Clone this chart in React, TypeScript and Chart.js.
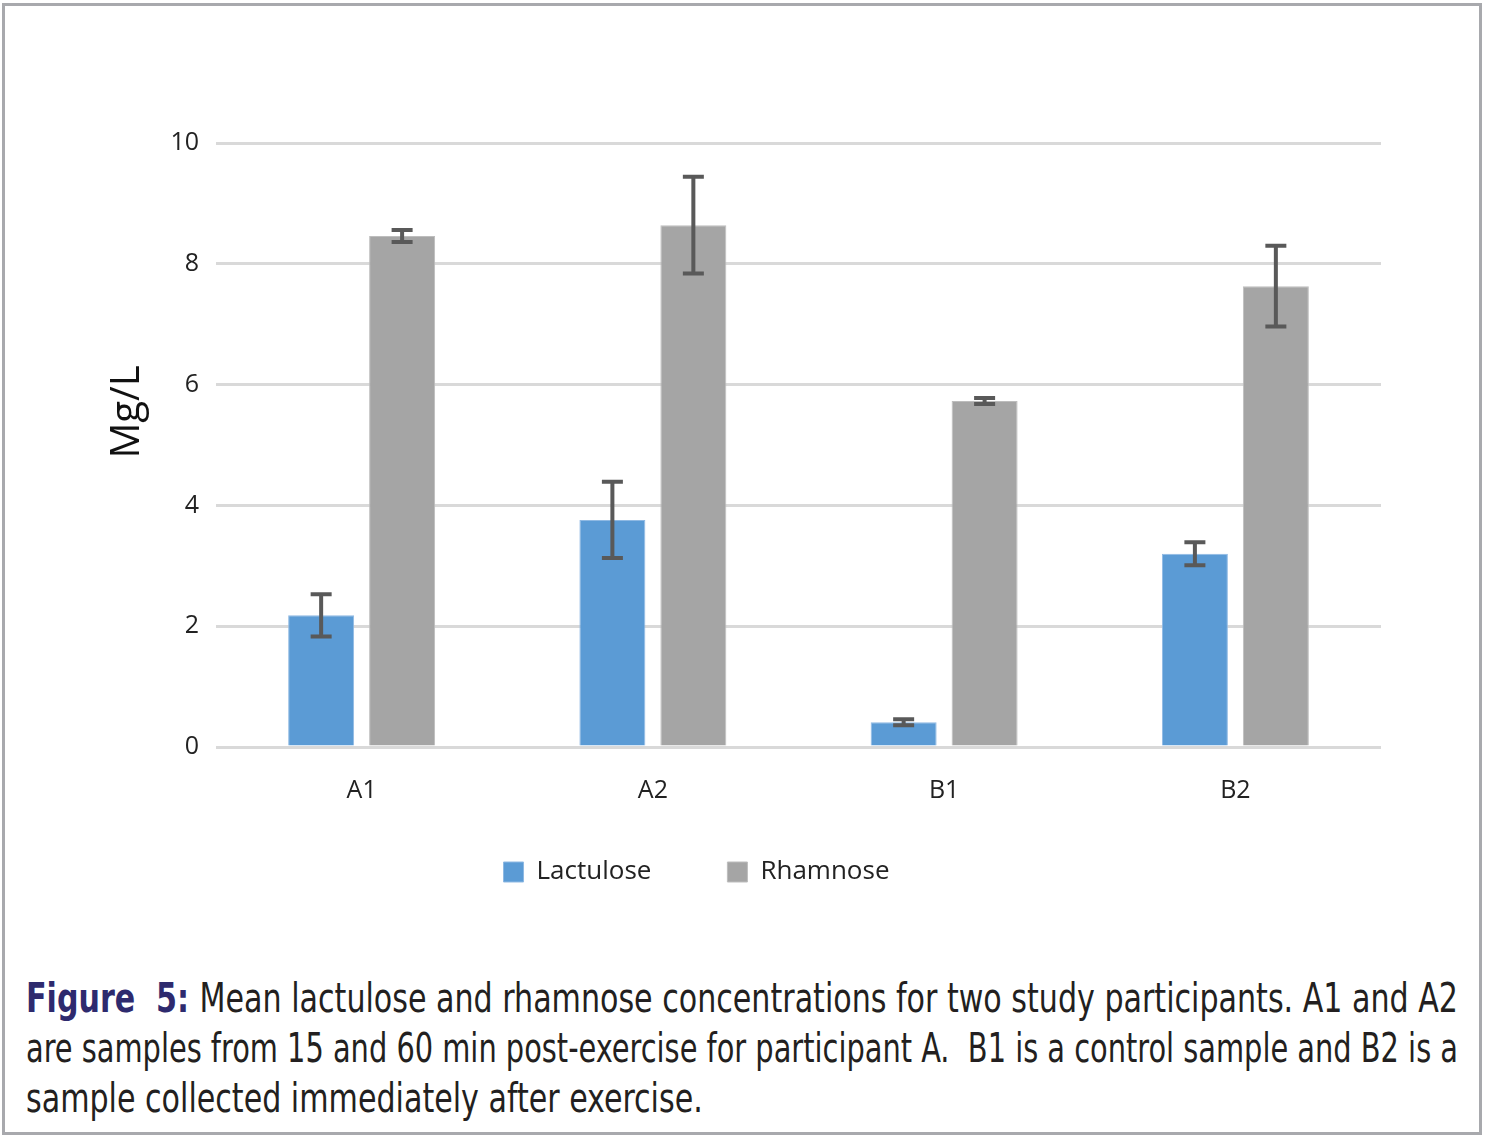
import React, { useEffect, useLayoutEffect, useRef } from "react";
import { Chart, registerables } from "chart.js";

Chart.register(...registerables);

const categories = ["A1", "A2", "B1", "B2"];
const lactulose = [2.18, 3.76, 0.41, 3.2];
const lactuloseErr = [0.35, 0.63, 0.05, 0.19];
const rhamnose = [8.46, 8.64, 5.73, 7.63];
const rhamnoseErr = [0.1, 0.8, 0.05, 0.67];
const yTicks = [0, 2, 4, 6, 8, 10];
const yTitle = "Mg/L";
const captionLines = [
  { bold: "Figure  5: ", text: "Mean lactulose and rhamnose concentrations for two study participants. A1 and A2" },
  { bold: "", text: "are samples from 15 and 60 min post-exercise for participant A.  B1 is a control sample and B2 is a" },
  { bold: "", text: "sample collected immediately after exercise." },
];

const FONT = "'Open Sans', 'DejaVu Sans', sans-serif";
const CAP_FONT = "'Liberation Sans Narrow', 'DejaVu Sans Condensed', sans-serif";

const errorBarPlugin = {
  id: "errorBars",
  afterDatasetsDraw(chart: any) {
    const ctx = chart.ctx;
    const yScale = chart.scales.y;
    chart.data.datasets.forEach((ds: any, di: number) => {
      const meta = chart.getDatasetMeta(di);
      const errs: number[] = ds.errors || [];
      meta.data.forEach((el: any, i: number) => {
        const v = ds.data[i];
        const e = errs[i];
        if (e == null) return;
        const x = el.x;
        const yT = yScale.getPixelForValue(v + e);
        const yB = yScale.getPixelForValue(v - e);
        ctx.save();
        ctx.strokeStyle = "#595959";
        ctx.lineWidth = 4;
        ctx.beginPath();
        ctx.moveTo(x, yT);
        ctx.lineTo(x, yB);
        ctx.moveTo(x - 10.5, yT);
        ctx.lineTo(x + 10.5, yT);
        ctx.moveTo(x - 10.5, yB);
        ctx.lineTo(x + 10.5, yB);
        ctx.stroke();
        ctx.restore();
      });
    });
  },
};

const yTitlePlugin = {
  id: "yTitleText",
  afterDraw(chart: any) {
    const ctx = chart.ctx;
    const area = chart.chartArea;
    ctx.save();
    ctx.translate(128, (area.top + area.bottom) / 2 - 33);
    ctx.rotate(-Math.PI / 2);
    ctx.font = `40px ${FONT}`;
    ctx.fillStyle = "#111";
    ctx.textAlign = "center";
    ctx.textBaseline = "middle";
    ctx.fillText(yTitle, 0, 0);
    ctx.restore();
  },
};

const legendShiftPlugin = {
  id: "legendShift",
  afterLayout(chart: any) {
    const lg = chart.legend;
    if (!lg) return;
    const h = lg.height;
    lg.top = 783;
    lg.bottom = lg.top + h;
  },
};

export default function App() {
  const canvasRef = useRef<HTMLCanvasElement | null>(null);
  const lineRefs = useRef<(HTMLSpanElement | null)[]>([]);

  useEffect(() => {
    if (!canvasRef.current) return;
    const chart = new Chart(canvasRef.current, {
      type: "bar",
      data: {
        labels: categories,
        datasets: [
          {
            label: "Lactulose",
            data: lactulose,
            errors: lactuloseErr,
            backgroundColor: "#5b9bd5",
            borderColor: "#8fb9e3",
            borderWidth: 1,
            categoryPercentage: 0.556,
            barPercentage: 0.815,
          } as any,
          {
            label: "Rhamnose",
            data: rhamnose,
            errors: rhamnoseErr,
            backgroundColor: "#a5a5a5",
            borderColor: "#bdbdbd",
            borderWidth: 1,
            categoryPercentage: 0.556,
            barPercentage: 0.815,
          } as any,
        ],
      },
      options: {
        responsive: false,
        animation: false,
        devicePixelRatio: 1,
        layout: { padding: { left: 12, right: 107, top: 143, bottom: 31 } },
        scales: {
          x: {
            grid: { display: false },
            border: { display: false },
            ticks: { color: "#222", font: { family: FONT, size: 25 }, padding: 21 },
            afterFit: (s: any) => {
              s.height = 70;
            },
          },
          y: {
            min: 0,
            max: 10,
            afterBuildTicks: (s: any) => {
              s.ticks = yTicks.map((v) => ({ value: v }));
            },
            grid: { color: "#d9d9d9", lineWidth: 3, drawTicks: false },
            border: { display: false },
            ticks: { color: "#222", font: { family: FONT, size: 25 }, padding: 17 },
            afterFit: (s: any) => {
              s.width = 204;
            },
          },
        },
        plugins: {
          legend: {
            position: "bottom",
            labels: {
              color: "#222",
              font: { family: FONT, size: 26 },
              boxWidth: 20,
              boxHeight: 20,
              padding: 76,
            },
          },
          tooltip: { enabled: false },
        },
      } as any,
      plugins: [errorBarPlugin, yTitlePlugin, legendShiftPlugin],
    });
    return () => chart.destroy();
  }, []);

  useLayoutEffect(() => {
    const fit = () => {
      const target = 1432;
      let s1 = 1;
      lineRefs.current.forEach((el, i) => {
        if (!el) return;
        el.style.transform = "none";
        const w = el.getBoundingClientRect().width;
        let s = target / w;
        if (i === 0) s1 = s;
        if (i === 2) s = s1;
        el.style.transform = `scaleX(${s})`;
      });
    };
    fit();
    if ((document as any).fonts && (document as any).fonts.ready) {
      (document as any).fonts.ready.then(fit);
    }
  }, []);

  return (
    <div
      style={{
        position: "absolute",
        left: 0,
        top: 0,
        width: 1488,
        height: 1140,
        background: "#fff",
        overflow: "hidden",
      }}
    >
      <div
        style={{
          position: "absolute",
          left: 2,
          top: 3,
          width: 1480,
          height: 1132,
          border: "3.5px solid #a8a9ad",
          boxSizing: "border-box",
        }}
      />
      <canvas
        ref={canvasRef}
        width={1488}
        height={960}
        style={{ position: "absolute", left: 0, top: 0, width: 1488, height: 960 }}
      />
      <div
        style={{
          position: "absolute",
          left: 26,
          top: 973,
          width: 1432,
          fontFamily: CAP_FONT,
          fontSize: 40,
          lineHeight: "50px",
          color: "#231f20",
        }}
      >
        {captionLines.map((ln, i) => (
          <div key={i} style={{ height: 50, whiteSpace: "pre" }}>
            <span
              ref={(el) => {
                lineRefs.current[i] = el;
              }}
              style={{ display: "inline-block", transformOrigin: "0 0", whiteSpace: "pre" }}
            >
              {ln.bold ? <b style={{ color: "#2e2a6e" }}>{ln.bold}</b> : null}
              {ln.text}
            </span>
          </div>
        ))}
      </div>
    </div>
  );
}
